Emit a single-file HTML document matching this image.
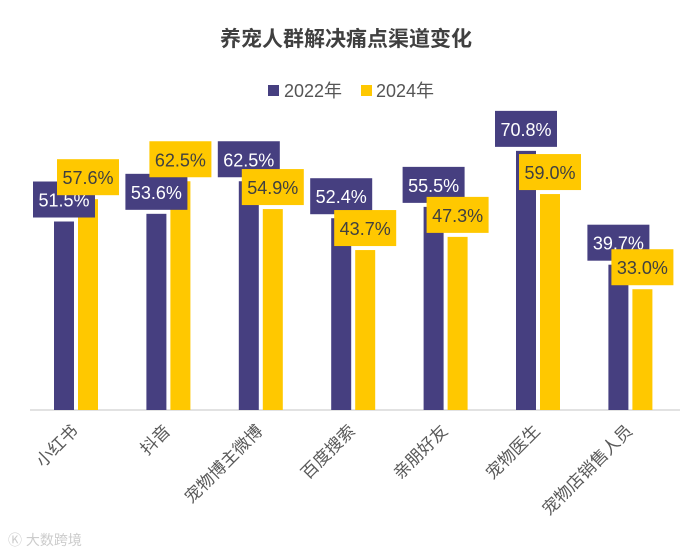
<!DOCTYPE html>
<html><head><meta charset="utf-8"><style>
body{margin:0;background:#fff}
svg{display:block;font-family:"Liberation Sans","Noto Sans CJK SC",sans-serif}
</style></head><body>
<svg id="c" width="694" height="553">
<text x="346" y="46" text-anchor="middle" font-size="21" font-weight="bold" fill="#404040">养宠人群解决痛点渠道变化</text>
<g>
<rect x="268" y="85" width="11" height="11" fill="#463F80"/>
<text x="284" y="97" font-size="18" fill="#555">2022年</text>
<rect x="361" y="85" width="11" height="11" fill="#FFC800"/>
<text x="376" y="97" font-size="18" fill="#555">2024年</text>
</g>
<line x1="30" y1="410" x2="680" y2="410" stroke="#d9d9d9" stroke-width="1.5"/>
<g id="marks"></g>
<text x="8" y="545" font-size="14" fill="#ccc">Ⓚ 大数跨境</text>
</svg>
<script>
const categories=["小红书","抖音","宠物博主微博","百度搜索","亲朋好友","宠物医生","宠物店销售人员"];
const values2022=[51.5,53.6,62.5,52.4,55.5,70.8,39.7];
const values2024=[57.6,62.5,54.9,43.7,47.3,59.0,33.0];
const NS="http://www.w3.org/2000/svg";
const g=document.getElementById('marks');
const base=410, k=3.66;
const y=v=>base-v*k;
const gx=i=>54+i*92.4;
function mk(t,a){const e=document.createElementNS(NS,t);for(const n in a)e.setAttribute(n,a[n]);g.appendChild(e);return e;}
categories.forEach((c,i)=>{
  const x0=gx(i);
  const b1=mk('rect',{x:x0,y:y(values2022[i]),width:20,height:values2022[i]*k,fill:'#463F80'});
  
  
  const b2=mk('rect',{x:x0+24,y:y(values2024[i]),width:20,height:values2024[i]*k,fill:'#FFC800'});
  
  
  const t=mk('text',{x:0,y:0,'font-size':17,fill:'#595959','text-anchor':'end',transform:`translate(${x0+25},${432}) rotate(-45)`});
  t.textContent=c;
  
  
});
[[values2022,'#463F80','#fff',10,'2022'],[values2024,'#FFC800','#404040',34,'2024']].forEach(([vals,bg,fg,off,s])=>{
  vals.forEach((v,i)=>{
    const cx=gx(i)+off, by=y(v)-4;
    const r=mk('rect',{x:cx-31,y:by-36,width:62,height:36,fill:bg});
    
    
    const t=mk('text',{x:cx,y:by-11,'text-anchor':'middle','font-size':18,fill:fg});
    t.textContent=v.toFixed(1)+'%';
    
    
  });
});
</script>
</body></html>
